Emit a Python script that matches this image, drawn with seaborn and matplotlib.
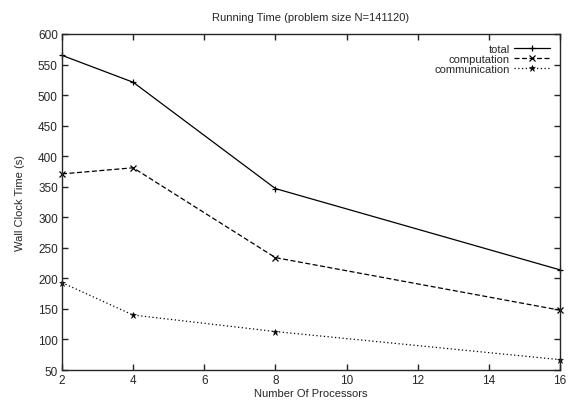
import pandas as pd
import matplotlib
matplotlib.use('Agg')
import matplotlib.pyplot as plt
import seaborn as sns

sns.set_style('ticks')
plt.rcParams['font.family'] = ['Liberation Sans', 'DejaVu Sans']

processors = [2, 4, 8, 16]
total = [565, 521, 347, 214]
computation = [371, 381, 234, 148]
communication = [193, 140, 113, 67]

series = {'total': total, 'computation': computation, 'communication': communication}
markers = {'total': '+', 'computation': 'x', 'communication': '*'}
dashes = {'total': None, 'computation': (4, 2), 'communication': (1, 2)}

fig = plt.figure(figsize=(5.69, 4.02), dpi=100)
ax = fig.add_axes([0.109, 0.077, 0.875, 0.836])

for name, vals in series.items():
    df = pd.DataFrame({'Processors': processors, 'Time': vals})
    kw = dict(marker=markers[name], color='black', markersize=4.5,
              markeredgecolor='black', markeredgewidth=0.9, linewidth=0.9,
              label=name, clip_on=False)
    if name == 'communication':
        kw.update(markerfacecolor='black', markersize=5, markeredgewidth=0.4)
    sns.lineplot(data=df, x='Processors', y='Time', ax=ax, **kw)
    if dashes[name] is not None:
        ax.lines[-1].set_dashes(dashes[name])

ax.set_xlim(2, 16)
ax.set_ylim(50, 600)
ax.set_xticks(range(2, 17, 2))
ax.set_yticks(range(50, 601, 50))
ax.tick_params(direction='in', top=True, right=True, length=4, width=1,
               labelsize=8.5, pad=3)
for s in ax.spines.values():
    s.set_linewidth(1.0)

ax.set_title('Running Time (problem size N=141120)', fontsize=8, pad=10)
ax.set_xlabel('Number Of Processors', fontsize=8, labelpad=1)
ax.set_ylabel('Wall Clock Time (s)', fontsize=8, labelpad=9)

ax.legend(loc='upper right', frameon=False, markerfirst=False, fontsize=8,
          handlelength=3.2, labelspacing=0.0, borderaxespad=0.5, handletextpad=0.4)

fig.savefig('out.png', dpi=100)
